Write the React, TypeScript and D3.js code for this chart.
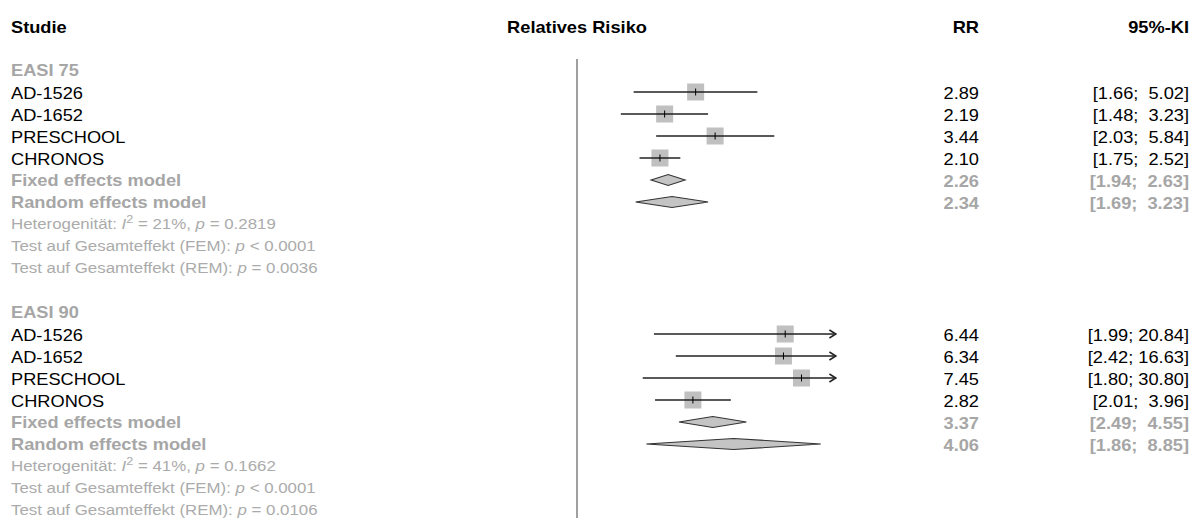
import * as d3 from 'd3';

const width = 1199;
const height = 518;

// study rows
const studies = ['AD-1526', 'AD-1652', 'PRESCHOOL', 'CHRONOS'];
const easi75RR = [2.89, 2.19, 3.44, 2.1];
const easi75Lo = [1.66, 1.48, 2.03, 1.75];
const easi75Hi = [5.02, 3.23, 5.84, 2.52];
const easi90RR = [6.44, 6.34, 7.45, 2.82];
const easi90Lo = [1.99, 2.42, 1.8, 2.01];
const easi90Hi = [20.84, 16.63, 30.8, 3.96];

// pooled estimates: [RR, lower, upper]
const fixed75 = [2.26, 1.94, 2.63];
const random75 = [2.34, 1.69, 3.23];
const fixed90 = [3.37, 2.49, 4.55];
const random90 = [4.06, 1.86, 8.85];

const outcomes = ['EASI 75', 'EASI 90'];
const hetI2 = ['21%', '41%'];
const hetP = ['0.2819', '0.1662'];
const femP = ['< 0.0001', '< 0.0001'];
const remP = ['= 0.0036', '= 0.0106'];

const groups = [
  { rr: easi75RR, lo: easi75Lo, hi: easi75Hi, fixed: fixed75, random: random75 },
  { rr: easi90RR, lo: easi90Lo, hi: easi90Hi, fixed: fixed90, random: random90 },
];

const x = d3.scaleLog().domain([0.1, 10]).range([319.6, 834.4]);
const y = d3.scaleLinear().domain([0, 22]).range([26, 510]);

const font = '"Liberation Sans", Arial, Helvetica, sans-serif';
const sx = 1.14;
const grayBold = '#a6a6a6';
const grayText = '#ababab';
const boxFill = '#c0c0c0';

const fmtCI = (lo: number, hi: number) =>
  `[${lo.toFixed(2).padStart(4)}; ${hi.toFixed(2).padStart(5)}]`;

const T = ({ tx, ty, anchor = 'start', size = 16, weight = 'normal', fill = '#000', children }: any) => (
  <text
    transform={`translate(${tx},${ty}) scale(${sx},1)`}
    textAnchor={anchor}
    fontSize={size}
    fontWeight={weight}
    fill={fill}
    fontFamily={font}
    style={{ whiteSpace: 'pre' }}
  >
    {children}
  </text>
);

const Diamond = ({ v, row }: { v: number[]; row: number }) => {
  const cy = y(row);
  const h = 5.5;
  const pts = [
    [x(v[1]), cy],
    [x(v[0]), cy - h],
    [x(v[2]), cy],
    [x(v[0]), cy + h],
  ];
  return (
    <polygon
      points={pts.map((p) => p.join(',')).join(' ')}
      fill="#c4c4c4"
      stroke="#333"
      strokeWidth={1.1}
    />
  );
};

const Study = ({ rr, lo, hi, row }: any) => {
  const cy = y(row);
  const [d0, d1] = x.domain();
  const x0 = x(Math.max(lo, d0));
  const x1 = x(Math.min(hi, d1));
  const box = 17;
  return (
    <g>
      <rect x={x(rr) - box / 2} y={cy - box / 2} width={box} height={box} fill={boxFill} />
      <line x1={x0} x2={x1} y1={cy} y2={cy} stroke="#222" strokeWidth={1.3} />
      {hi > d1 && (
        <polyline
          points={`${x1 - 5},${cy - 4} ${x1 + 1.5},${cy} ${x1 - 5},${cy + 4}`}
          fill="none"
          stroke="#222"
          strokeWidth={1.5}
        />
      )}
      <line x1={x(rr)} x2={x(rr)} y1={cy - 3.5} y2={cy + 3.5} stroke="#000" strokeWidth={1} />
    </g>
  );
};

export default function App() {
  const rrX = 979;
  const ciX = 1189;
  const leftX = 11;

  return (
    <svg
      width={width}
      height={height}
      style={{ position: 'absolute', left: 0, top: 0, background: '#fff' }}
    >
      {/* header */}
      <T tx={leftX} ty={y(0) + 6.5} weight="bold">Studie</T>
      <T tx={x(1)} ty={y(0) + 6.5} weight="bold" anchor="middle">Relatives Risiko</T>
      <T tx={rrX} ty={y(0) + 6.5} weight="bold" anchor="end">RR</T>
      <T tx={ciX} ty={y(0) + 6.5} weight="bold" anchor="end">95%-KI</T>

      {/* reference line at RR = 1 */}
      <line x1={x(1)} x2={x(1)} y1={y(1.5)} y2={height} stroke="#808080" strokeWidth={1.5} />

      {groups.map((g, gi) => {
        const base = gi * 11 + 2;
        return (
          <g key={gi}>
            <T tx={leftX} ty={y(base) + 6} weight="bold" fill={grayBold}>{outcomes[gi]}</T>
            {studies.map((s, i) => {
              const row = base + 1 + i;
              return (
                <g key={s}>
                  <T tx={leftX} ty={y(row) + 6.5}>{s}</T>
                  <Study rr={g.rr[i]} lo={g.lo[i]} hi={g.hi[i]} row={row} />
                  <T tx={rrX} ty={y(row) + 6.5} anchor="end">{g.rr[i].toFixed(2)}</T>
                  <T tx={ciX} ty={y(row) + 6.5} anchor="end">{fmtCI(g.lo[i], g.hi[i])}</T>
                </g>
              );
            })}
            {[
              ['Fixed effects model', g.fixed],
              ['Random effects model', g.random],
            ].map(([label, v]: any, k) => {
              const row = base + 5 + k;
              return (
                <g key={label}>
                  <T tx={leftX} ty={y(row) + 6} weight="bold" fill={grayBold}>{label}</T>
                  <Diamond v={v} row={row} />
                  <T tx={rrX} ty={y(row) + 6.5} anchor="end" weight="bold" fill={grayBold}>
                    {v[0].toFixed(2)}
                  </T>
                  <T tx={ciX} ty={y(row) + 6.5} anchor="end" weight="bold" fill={grayBold}>
                    {fmtCI(v[1], v[2])}
                  </T>
                </g>
              );
            })}
            <T tx={leftX} ty={y(base + 7) + 5} size={14.8} fill={grayText}>
              {'Heterogenität: '}
              <tspan fontStyle="italic">I</tspan>
              <tspan dy={-6} fontSize={11}>2</tspan>
              <tspan dy={6}>{` = ${hetI2[gi]}, `}</tspan>
              <tspan fontStyle="italic">p</tspan>
              {` = ${hetP[gi]}`}
            </T>
            <T tx={leftX} ty={y(base + 8) + 5} size={14.8} fill={grayText}>
              {'Test auf Gesamteffekt (FEM): '}
              <tspan fontStyle="italic">p</tspan>
              {` ${femP[gi]}`}
            </T>
            <T tx={leftX} ty={y(base + 9) + 5} size={14.8} fill={grayText}>
              {'Test auf Gesamteffekt (REM): '}
              <tspan fontStyle="italic">p</tspan>
              {` ${remP[gi]}`}
            </T>
          </g>
        );
      })}
    </svg>
  );
}
